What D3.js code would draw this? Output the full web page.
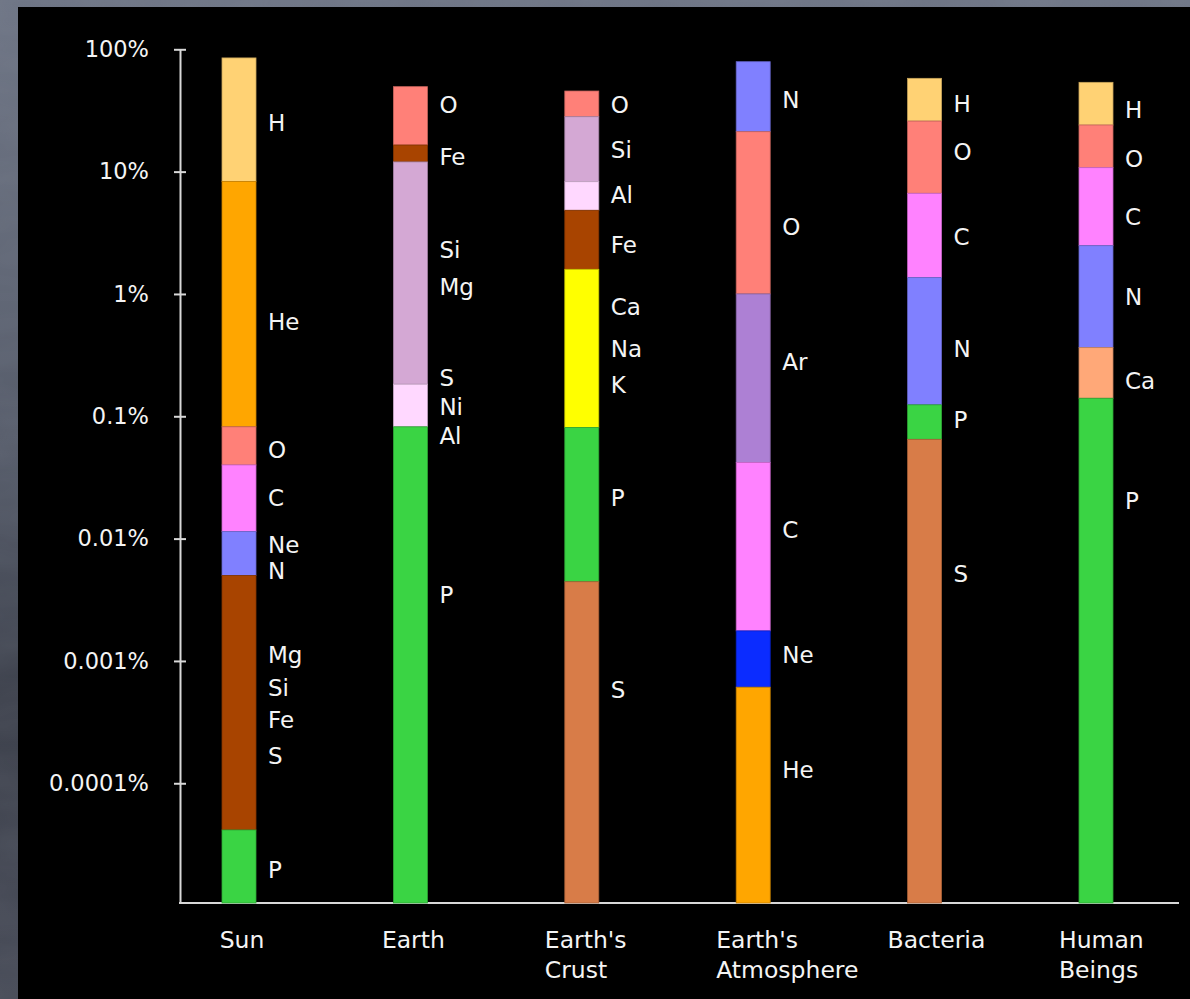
<!DOCTYPE html>
<html>
<head>
<meta charset="utf-8">
<script src="https://cdn.jsdelivr.net/npm/d3@7"></script>
<style>
  html, body { margin: 0; padding: 0; background: #000; overflow: hidden; }
  svg { display: block; }
  text { font-family: "Comic Sans MS", "DejaVu Sans", sans-serif; fill: #f4f4f4; }
</style>
</head>
<body>
<svg id="chart" width="1190" height="999"></svg>
<script>
// ---- Data: relative abundance of elements (percent, log scale) ----
const categories = ["Sun", "Earth", "Earth's Crust", "Earth's Atmosphere", "Bacteria", "Human Beings"];
const categoryLines = [["Sun"], ["Earth"], ["Earth's", "Crust"], ["Earth's", "Atmosphere"], ["Bacteria"], ["Human", "Beings"]];

const tickValues = [100, 10, 1, 0.1, 0.01, 0.001, 0.0001];
const tickLabels = ["100%", "10%", "1%", "0.1%", "0.01%", "0.001%", "0.0001%"];
const floorPct = 0.0000105;   // lowest value shown, where every column starts

// Each column: colour bands (top value of each band), and element names placed at their value
const sunBands    = ["H", "He", "O", "C", "N", "Fe", "P"];
const sunTops     = [85, 8.3, 0.082, 0.040, 0.0114, 0.0050, 0.0000415];
const sunLabels   = ["H", "He", "O", "C", "Ne", "N", "Mg", "Si", "Fe", "S", "P"];
const sunLabelAt  = [25, 0.59, 0.053, 0.0215, 0.0089, 0.0055, 0.00112, 0.0006, 0.00033, 0.000167, 0.0000195];

const earthBands   = ["O", "Fe", "Si", "Al", "P"];
const earthTops    = [49.5, 16.5, 12.0, 0.183, 0.082];
const earthLabels  = ["O", "Fe", "Si", "Mg", "S", "Ni", "Al", "P"];
const earthLabelAt = [35, 13.2, 2.29, 1.15, 0.206, 0.12, 0.069, 0.0035];

const crustBands   = ["O", "Si", "Al", "Fe", "CaNaK", "P", "S"];
const crustTops    = [45.6, 28.1, 8.27, 4.83, 1.59, 0.081, 0.00444];
const crustLabels  = ["O", "Si", "Al", "Fe", "Ca", "Na", "K", "P", "S"];
const crustLabelAt = [35, 15, 6.44, 2.51, 0.787, 0.36, 0.18, 0.0214, 0.00058];

const atmoBands    = ["N", "O", "Ar", "C", "Ne", "He"];
const atmoTops     = [79.2, 21.2, 1.0, 0.0419, 0.00176, 0.00061];
const atmoLabels   = ["N", "O", "Ar", "C", "Ne", "He"];
const atmoLabelAt  = [38.5, 3.55, 0.28, 0.0118, 0.00112, 0.000128];

const bactBands    = ["H", "O", "C", "N", "P", "S"];
const bactTops     = [57.9, 25.9, 6.65, 1.36, 0.124, 0.0648];
const bactLabels   = ["H", "O", "C", "N", "P", "S"];
const bactLabelAt  = [36.2, 14.55, 2.94, 0.36, 0.0933, 0.0052];

const humanBands   = ["H", "O", "C", "N", "Ca", "P"];
const humanTops    = [53.7, 24.05, 10.77, 2.48, 0.364, 0.1404];
const humanLabels  = ["H", "O", "C", "N", "Ca", "P"];
const humanLabelAt = [32.3, 12.85, 4.28, 0.95, 0.195, 0.0204];

// ---- Colours of the bands ----
const bandColor = {
  H: "#ffd274", He: "#ffa600", O: "#ff8078", C: "#ff82ff", N: "#8080ff",
  Fe: "#a84400", P: "#3ad444", Si: "#d4a8d4", Al: "#ffd8ff", S: "#d87c48",
  CaNaK: "#ffff00", Ar: "#ad80d4", Ne: "#0b2cff", Ca: "#ffa878"
};

const columns = [
  { bands: sunBands,   tops: sunTops,   labels: sunLabels,   at: sunLabelAt },
  { bands: earthBands, tops: earthTops, labels: earthLabels, at: earthLabelAt },
  { bands: crustBands, tops: crustTops, labels: crustLabels, at: crustLabelAt },
  { bands: atmoBands,  tops: atmoTops,  labels: atmoLabels,  at: atmoLabelAt },
  { bands: bactBands,  tops: bactTops,  labels: bactLabels,  at: bactLabelAt },
  { bands: humanBands, tops: humanTops, labels: humanLabels, at: humanLabelAt }
].map((c, i) => ({ ...c, name: categories[i], lines: categoryLines[i] }));

// ---- Layout ----
const W = 1190, H = 999;
const svg = d3.select("#chart");
const defs = svg.append("defs");

// slate backdrop
const bg = defs.append("linearGradient").attr("id", "slate").attr("x1", 0).attr("y1", 0).attr("x2", 0).attr("y2", 1);
bg.append("stop").attr("offset", "0%").attr("stop-color", "#6d7484");
bg.append("stop").attr("offset", "45%").attr("stop-color", "#545a68");
bg.append("stop").attr("offset", "70%").attr("stop-color", "#3b3f4a");
bg.append("stop").attr("offset", "100%").attr("stop-color", "#464a56");
const noise = defs.append("filter").attr("id", "grain").attr("x", 0).attr("y", 0).attr("width", "100%").attr("height", "100%");
noise.append("feTurbulence").attr("type", "fractalNoise").attr("baseFrequency", "0.01 0.03").attr("numOctaves", 3).attr("seed", 4);
noise.append("feColorMatrix").attr("type", "matrix")
  .attr("values", "0 0 0 0 0.55  0 0 0 0 0.58  0 0 0 0 0.66  0 0 0 0.25 0");

svg.append("rect").attr("width", W).attr("height", H).attr("fill", "url(#slate)");
svg.append("rect").attr("width", W).attr("height", H).attr("filter", "url(#grain)").attr("opacity", 0.4);

// black slide panel
svg.append("rect").attr("x", 18).attr("y", 7).attr("width", W - 18).attr("height", H - 7).attr("fill", "#000");

const axisX = 180, axisRight = 1179;
const y = d3.scaleLog().domain([floorPct, 100]).range([903, 49.3]);
const x = d3.scalePoint().domain(categories).range([239, 1096]);
const barW = 34;

// y axis
const yAxis = d3.axisLeft(y)
  .tickValues(tickValues)
  .tickFormat((d, i) => tickLabels[i])
  .tickSizeInner(6)
  .tickSizeOuter(0)
  .tickPadding(25);

const gy = svg.append("g").attr("transform", `translate(${axisX},0)`).call(yAxis);
gy.select(".domain").attr("stroke", "#d8d8d8").attr("stroke-width", 2);
gy.selectAll(".tick line").attr("x1", -6).attr("x2", 6).attr("stroke", "#d8d8d8").attr("stroke-width", 2);
gy.selectAll(".tick text")
  .attr("fill", "#f4f4f4")
  .style("font-family", "\"Comic Sans MS\", \"DejaVu Sans\", sans-serif")
  .style("font-size", "22.5px");

// x axis baseline
svg.append("line")
  .attr("x1", axisX - 1).attr("x2", axisRight)
  .attr("y1", y(floorPct)).attr("y2", y(floorPct))
  .attr("stroke", "#d8d8d8").attr("stroke-width", 2);

// columns
const col = svg.selectAll("g.column").data(columns).join("g").attr("class", "column");

col.selectAll("rect")
  .data(d => d.bands.map((b, i) => ({
    band: b,
    top: d.tops[i],
    bottom: i + 1 < d.tops.length ? d.tops[i + 1] : floorPct,
    cx: x(d.name)
  })))
  .join("rect")
  .attr("x", s => s.cx - barW / 2)
  .attr("width", barW)
  .attr("y", s => y(s.top))
  .attr("height", s => y(s.bottom) - y(s.top))
  .attr("fill", s => bandColor[s.band])
  .attr("stroke", s => d3.color(bandColor[s.band]).darker(0.7))
  .attr("stroke-width", 0.8);

col.selectAll("text.elem")
  .data(d => d.labels.map((l, i) => ({ label: l, at: d.at[i], cx: x(d.name) })))
  .join("text")
  .attr("class", "elem")
  .attr("x", s => s.cx + barW / 2 + 12)
  .attr("y", s => y(s.at))
  .attr("dy", "0.36em")
  .style("font-size", "23px")
  .text(s => s.label);

// category names under the axis
const cat = svg.selectAll("text.cat").data(columns).join("text")
  .attr("class", "cat")
  .style("font-size", "23.5px");
cat.each(function (d) {
  const t = d3.select(this);
  d.lines.forEach((line, i) => {
    t.append("tspan").attr("y", 948 + i * 30).text(line);
  });
  const w = this.getBBox().width;
  const left = x(d.name) - Math.min(w / 2, 40) + 3;
  t.selectAll("tspan").attr("x", left);
});
</script>
</body>
</html>
